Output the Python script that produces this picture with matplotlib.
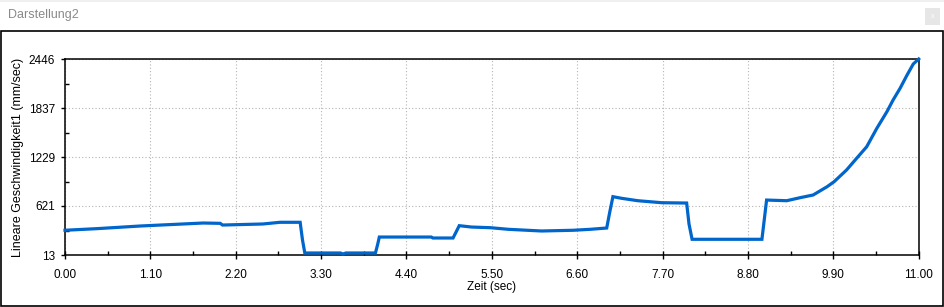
import numpy as np
import matplotlib
matplotlib.use("Agg")
import matplotlib.pyplot as plt
from matplotlib.patches import Rectangle

# ---- data ----
time_s = [0.00, 0.41, 0.97, 1.52, 1.78, 2.00, 2.03, 2.55, 2.77, 3.03, 3.06, 3.09,
          3.55, 3.58, 3.62, 4.00, 4.03, 4.05, 4.72, 4.74, 5.00, 5.04, 5.08, 5.24,
          5.48, 5.71, 6.14, 6.55, 6.77, 6.98, 7.02, 7.06, 7.17, 7.38, 7.69, 8.01,
          8.04, 8.08, 8.98, 9.01, 9.04, 9.30, 9.47, 9.64, 9.82, 9.91, 10.07,
          10.20, 10.33, 10.46, 10.59, 10.67, 10.76, 10.85, 10.93, 11.00]
speed = [320, 340, 373, 398, 410, 406, 385, 398, 419, 419, 200, 38,
         38, 25, 38, 38, 150, 236, 236, 224, 224, 300, 377, 360,
         352, 332, 311, 320, 332, 348, 550, 737, 717, 687, 662, 658,
         400, 208, 208, 450, 695, 687, 724, 758, 861, 923, 1068,
         1213, 1357, 1585, 1791, 1937, 2082, 2247, 2384, 2446]

x_ticks = [0.00, 1.10, 2.20, 3.30, 4.40, 5.50, 6.60, 7.70, 8.80, 9.90, 11.00]
x_tick_labels = ["0.00", "1.10", "2.20", "3.30", "4.40", "5.50", "6.60", "7.70",
                 "8.80", "9.90", "11.00"]
y_min, y_max = 13, 2446
y_tick_labels = ["13", "621", "1229", "1837", "2446"]

title = "Darstellung2"
x_label = "Zeit (sec)"
y_label = "Lineare Geschwindigkeit1 (mm/sec)"

# ---- figure ----
W, H = 944, 307
plt.rcParams['font.family'] = ['Liberation Sans', 'DejaVu Sans']
fig = plt.figure(figsize=(W / 100, H / 100), dpi=100)
fig.patch.set_facecolor("white")

# window chrome
fig.add_artist(Rectangle((0, (H - 2) / H), 1, 2 / H, transform=fig.transFigure,
                         facecolor="#f0f0f0", edgecolor="none"))
fig.add_artist(Rectangle((0.8 / W, 0.8 / H), (W - 2.3) / W, (H - 31.5) / H,
                         transform=fig.transFigure, facecolor="none",
                         edgecolor="black", linewidth=1.2))
fig.add_artist(Rectangle((925 / W, (H - 25) / H), 15 / W, 17 / H,
                         transform=fig.transFigure, facecolor="#e6e6e6",
                         edgecolor="none"))
fig.text(932.5 / W, (H - 16.5) / H, "x", color="white", fontsize=5,
         ha="center", va="center")
fig.text(8 / W, (H - 15) / H, title, color="#8a8a8a", fontsize=9,
         ha="left", va="center")

left, right, top, bottom = 65, 918.7, 59, 255
ax = fig.add_axes([left / W, (H - bottom) / H, (right - left) / W, (bottom - top) / H])

ax.plot(time_s, speed, color="#0066cc", linewidth=2.3, solid_joinstyle="miter",
        clip_on=False, zorder=3)

ax.set_xlim(0, 11)
ax.set_ylim(y_min, y_max)
ax.set_xticks(x_ticks)
ax.set_xticklabels(x_tick_labels)
yt = np.linspace(y_min, y_max, len(y_tick_labels))
ax.set_yticks(yt)
ax.set_yticklabels(y_tick_labels)
ax.set_xticks(np.arange(0.55, 11, 1.1), minor=True)
ax.set_yticks((yt[:-1] + yt[1:]) / 2, minor=True)

ax.grid(True, which="major", color="#b4b4b4", linestyle=(0, (1, 2)), linewidth=0.8)
for s in ax.spines.values():
    s.set_linewidth(1.1)
    s.set_color("black")

ax.tick_params(axis="x", which="major", direction="inout", length=6, width=1,
               labelsize=8.5, pad=7, colors="black")
ax.tick_params(axis="y", which="major", direction="out", length=3, width=1,
               labelsize=8.5, pad=4, colors="black")
ax.tick_params(which="minor", direction="in", length=3, width=1)

fig.text(492 / W, (H - 287) / H, x_label, fontsize=8.5, ha="center", va="center")
fig.text(18 / W, (H - 157) / H, y_label, fontsize=9, rotation=90,
         ha="center", va="center")

fig.savefig("out.png", dpi=100)
